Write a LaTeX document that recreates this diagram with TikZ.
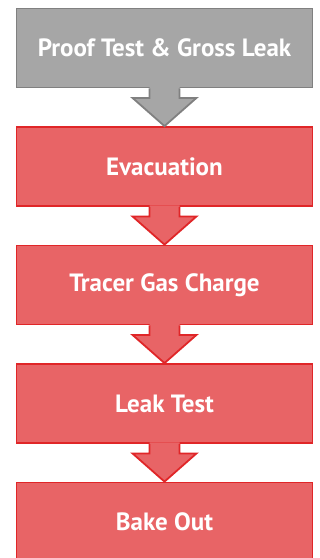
\documentclass[tikz,border=0pt]{standalone}
\usepackage{fontspec}
\setmainfont{PT Sans}
\usetikzlibrary{calc}
\definecolor{grayfill}{RGB}{166,166,166}
\definecolor{grayline}{RGB}{128,128,128}
\definecolor{redfill}{RGB}{232,100,102}
\definecolor{redline}{RGB}{224,38,40}
\tikzset{
  stepbox/.style={draw, line width=1.8pt, minimum width=296pt, minimum height=79pt,
    text=white, font=\bfseries\fontsize{25}{29}\selectfont, inner sep=0pt},
  graybox/.style={stepbox, fill=grayfill, draw=grayline},
  redbox/.style={stepbox, fill=redfill, draw=redline},
}
\newcommand{\blockarrow}[4]{%
  \fill[#3] ($(#1.south)+(-15pt,1.5pt)$) -- ($(#1.south)+(-15pt,-9.5pt)$) -- ($(#1.south)+(-32pt,-9.5pt)$)
     -- (#2.north) -- ($(#1.south)+(32pt,-9.5pt)$) -- ($(#1.south)+(15pt,-9.5pt)$) -- ($(#1.south)+(15pt,1.5pt)$) -- cycle;
  \draw[#4, line width=1.8pt, line join=miter] ($(#1.south)+(-15pt,0pt)$) -- ($(#1.south)+(-15pt,-9.5pt)$) -- ($(#1.south)+(-32pt,-9.5pt)$)
     -- (#2.north) -- ($(#1.south)+(32pt,-9.5pt)$) -- ($(#1.south)+(15pt,-9.5pt)$) -- ($(#1.south)+(15pt,0pt)$);
}
\begin{document}
\begin{tikzpicture}[x=1pt,y=1pt]
\useasboundingbox (0,0) rectangle (320,-558);
\begin{scope}
\clip (0,0) rectangle (320,-558);
\node[graybox] (b1) at (164.5,-48) {Proof Test \& Gross Leak};
\node[redbox] (b2) at (164.5,-166.5) {Evacuation};
\node[redbox] (b3) at (164.5,-285) {Tracer Gas Charge};
\node[redbox] (b4) at (164.5,-403.5) {Leak Test};
\node[redbox] (b5) at (164.5,-522) {Bake Out};
\blockarrow{b1}{b2}{grayfill}{grayline}
\blockarrow{b2}{b3}{redfill}{redline}
\blockarrow{b3}{b4}{redfill}{redline}
\blockarrow{b4}{b5}{redfill}{redline}
\end{scope}
\end{tikzpicture}
\end{document}
